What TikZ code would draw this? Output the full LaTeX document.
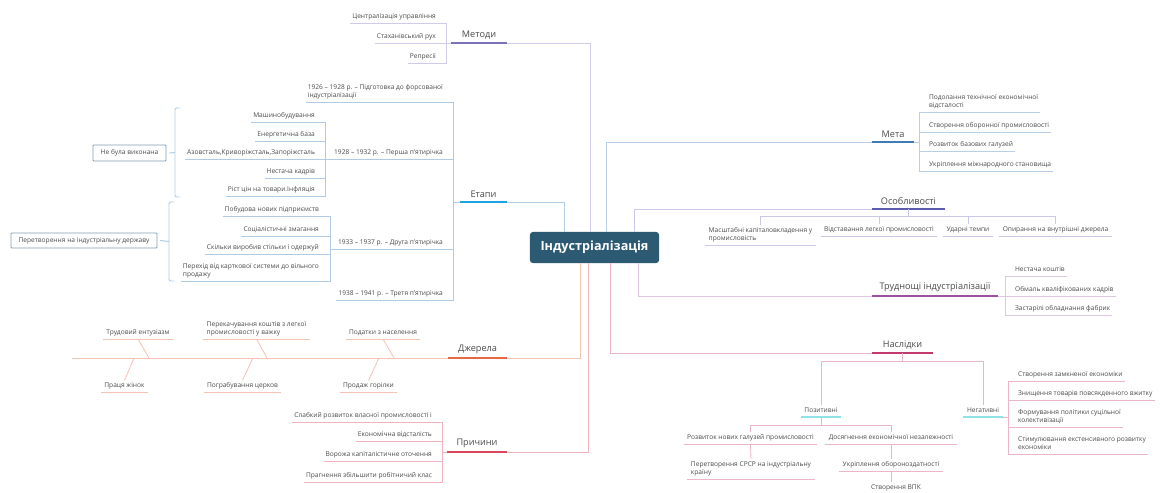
\documentclass[tikz,border=0pt]{standalone}
\usepackage{fontspec}
\setmainfont{Open Sans}
\usepackage{tikz}
\usetikzlibrary{positioning}

\definecolor{rootc}{HTML}{2C5A73}
\definecolor{txtc}{HTML}{4A4A4A}
\definecolor{metbar}{HTML}{7B72BE}
\definecolor{metln}{HTML}{CFCBE8}
\definecolor{etbar}{HTML}{1FA3E0}
\definecolor{etln}{HTML}{AFCBE6}
\definecolor{dzhbar}{HTML}{E36A45}
\definecolor{dzhln}{HTML}{F4C3B6}
\definecolor{prbar}{HTML}{D9475A}
\definecolor{prln}{HTML}{F0B3BB}
\definecolor{metabar}{HTML}{3E7CB8}
\definecolor{metaln}{HTML}{B7CFE7}
\definecolor{osbar}{HTML}{5D5DB0}
\definecolor{osln}{HTML}{CAC8E8}
\definecolor{trbar}{HTML}{9C509F}
\definecolor{trln}{HTML}{DDC6E0}
\definecolor{nabar}{HTML}{C53A6E}
\definecolor{naln}{HTML}{EBB6C8}
\definecolor{cybar}{HTML}{8FE3E6}
\definecolor{boxc}{HTML}{7E9CB6}

\tikzset{
  root/.style={
    rectangle,
    rounded corners=2pt,
    fill=rootc,
    text=white,
    minimum width=3.225cm,
    minimum height=0.775cm,
    inner sep=0pt,
    font=\bfseries\fontsize{9}{11}\selectfont
    },
  topic/.style={
    anchor=south,
    inner xsep=0pt,
    inner ysep=3pt,
    outer sep=0pt,
    text=txtc,
    font=\fontsize{6.5}{8}\selectfont
    },
  leaf/.style={
    inner xsep=1.5pt,
    inner ysep=1.8pt,
    outer sep=0pt,
    text depth=1.2pt,
    align=left,
    text=txtc,
    font=\fontsize{4.7}{5.8}\selectfont
    },
  lleaf/.style={leaf, anchor=south east},
  rleaf/.style={leaf, anchor=south west},
  uleaf/.style={leaf, anchor=south, inner xsep=2.5pt},
  dleaf/.style={leaf, anchor=south, inner xsep=2.5pt},
  sumbox/.style={
    rectangle,
    draw=boxc,
    line width=0.6pt,
    rounded corners=0.5pt,
    inner sep=0pt,
    text=txtc,
    font=\fontsize{4.7}{5.8}\selectfont
    },
  ubar/.style={line width=2.1pt},
  metl/.style={draw=metln, line width=0.6pt},
  etl/.style={draw=etln, line width=0.6pt},
  brl/.style={draw=etln, line width=0.7pt, rounded corners=1pt},
  dzhl/.style={draw=dzhln, line width=0.6pt},
  prl/.style={draw=prln, line width=0.6pt},
  metal/.style={draw=metaln, line width=0.6pt},
  osl/.style={draw=osln, line width=0.6pt},
  trl/.style={draw=trln, line width=0.6pt},
  nal/.style={draw=naln, line width=0.6pt},
  cyl/.style={draw=cybar, line width=1pt},
}

\begin{document}
\begin{tikzpicture}[x=0.025cm, y=-0.025cm]
\useasboundingbox (0,0) rectangle (1160,493);

\node[root] (root) at (594.5,247.5) {Індустріалізація};

% Методи
\node[topic, minimum width=1.4cm] (met) at (479,43) {Методи};
\draw[ubar, draw=metbar] (met.south west) -- (met.south east);
\draw[metl] (met.south east) -| ([xshift=-0.11cm]root.north);
\node[lleaf] (mc1) at (438,23) {Централізація управління};
\node[lleaf] (mc2) at (438,43) {Стаханівський рух};
\node[lleaf] (mc3) at (438,63) {Репресії};
\coordinate (mbr) at (446,43);
\draw[metl] (mc1.south west) -- (mc1.south west -| mbr) -- (mc3.south west -| mbr) -- (mc3.south west);
\draw[metl] (mc2.south west) -- (met.south west);

% Етапи
\node[topic, minimum width=1.175cm] (etapy) at (483.5,202) {Етапи};
\draw[ubar, draw=etbar] (etapy.south west) -- (etapy.south east);
\draw[etl] (etapy.south east) -| ([xshift=-0.76cm]root.north);
\node[lleaf] (ec1) at (445,102) {1926 – 1928 р. – Підготовка до форсованої\\індустріалізації};
\node[lleaf] (ec2) at (445,159) {1928 – 1932 р. – Перша п'ятирічка};
\node[lleaf] (ec3) at (445,249) {1933 – 1937 р. – Друга п'ятирічка};
\node[lleaf] (ec4) at (445,300) {1938 – 1941 р. – Третя п'ятирічка};
\coordinate (ebr) at (453,202);
\draw[etl] (ec1.south west) -- (ec1.south west -| ebr) -- (ec4.south west -| ebr) -- (ec4.south west);
\draw[etl] (ec2.south west) -- (ec2.south west -| ebr);
\draw[etl] (ec3.south west) -- (ec3.south west -| ebr);
\draw[etl] (ebr) -- (etapy.south west);

% Перша п'ятирічка
\node[lleaf] (p1c1) at (317,122) {Машинобудування};
\node[lleaf] (p1c2) at (317,141) {Енергетична база};
\node[lleaf] (p1c3) at (317,159) {Азовсталь,Криворіжсталь,Запоріжсталь};
\node[lleaf] (p1c4) at (317,178) {Нестача кадрів};
\node[lleaf] (p1c5) at (317,196) {Ріст цін на товари.Інфляція};
\coordinate (p1br) at (325,159);
\draw[etl] (p1c1.south west) -- (p1c1.south west -| p1br) -- (p1c5.south west -| p1br) -- (p1c5.south west);
\draw[etl] (p1c2.south west) -- (p1c2.south west -| p1br);
\draw[etl] (p1c3.south west) -- (p1br);
\draw[etl] (p1c4.south west) -- (p1c4.south west -| p1br);
\draw[etl] (p1br) -- (ec2.south west);
\node[sumbox, minimum width=1.825cm, minimum height=0.4cm] (sum1) at (129.5,153) {Не була виконана};
\draw[brl] (180,108) -- (175,108) -- (175,197) -- (180,197);
\coordinate (b1) at (175,152.5);
\draw[brl] (b1) -- ([xshift=0.07cm]sum1.east);

% Друга п'ятирічка
\node[lleaf] (p2c1) at (321,216) {Побудова нових підприємств};
\node[lleaf] (p2c2) at (321,236) {Соціалістичні змагання};
\node[lleaf] (p2c3) at (321,254) {Скільки виробив стільки і одержуй};
\node[lleaf] (p2c4) at (321,281) {Перехід від карткової системи до вільного\\продажу};
\coordinate (p2br) at (330,249);
\draw[etl] (p2c1.south west) -- (p2c1.south west -| p2br) -- (p2c4.south west -| p2br) -- (p2c4.south west);
\draw[etl] (p2c2.south west) -- (p2c2.south west -| p2br);
\draw[etl] (p2c3.south west) -- (p2c3.south west -| p2br);
\draw[etl] (p2br) -- (ec3.south west);
\node[sumbox, minimum width=3.65cm, minimum height=0.375cm] (sum2) at (84,240.5) {Перетворення на індустріальну державу};
\draw[brl] (174,202) -- (169,202) -- (169,281) -- (174,281);
\coordinate (b2) at (169,241.5);
\draw[brl] (b2) -- ([xshift=0.07cm]sum2.east);

% Джерела
\node[topic, minimum width=1.475cm] (dzh) at (477.5,358) {Джерела};
\draw[ubar, draw=dzhbar] (dzh.south west) -- (dzh.south east);
\draw[dzhl] (dzh.south east) -| ([xshift=-0.34cm]root.south);
\coordinate (fend) at (72,358);
\draw[dzhl] (dzh.south west) -- (fend);
\node[dleaf] (dj1) at (138,339) {Трудовий ентузіазм};
\node[dleaf] (dj2) at (256.5,339) {Перекачування коштів з легкої\\промисловості у важку};
\node[dleaf] (dj3) at (383,339) {Податки з населення};
\node[dleaf] (dj4) at (124.5,392) {Праця жінок};
\node[dleaf] (dj5) at (242.5,392) {Пограбування церков};
\node[dleaf] (dj6) at (368.5,392) {Продаж горілки};
\draw[dzhl] (dj1.south west) -- (dj1.south east);
\draw[dzhl] (dj2.south west) -- (dj2.south east);
\draw[dzhl] (dj3.south west) -- (dj3.south east);
\draw[dzhl] (dj4.south west) -- (dj4.south east);
\draw[dzhl] (dj5.south west) -- (dj5.south east);
\draw[dzhl] (dj6.south west) -- (dj6.south east);
\coordinate (f1) at (149,358);
\coordinate (f2) at (267,358);
\coordinate (f3) at (394,358);
\coordinate (f4) at (134,358);
\coordinate (f5) at (253,358);
\coordinate (f6) at (379,358);
\draw[dzhl] (dj1.south) -- (f1);
\draw[dzhl] (dj2.south) -- (f2);
\draw[dzhl] (dj3.south) -- (f3);
\draw[dzhl] (f4) -- (dj4.north);
\draw[dzhl] (f5) -- (dj5.north);
\draw[dzhl] (f6) -- (dj6.north);

% Причини
\node[topic, minimum width=1.5cm] (prych) at (477,452) {Причини};
\draw[ubar, draw=prbar] (prych.south west) -- (prych.south east);
\draw[prl] (prych.south east) -| ([xshift=-0.16cm]root.south);
\node[lleaf] (pr1) at (434,422) {Слабкий розвиток власної промисловості і};
\node[lleaf] (pr2) at (434,441) {Економічна відсталість};
\node[lleaf] (pr3) at (434,461) {Ворожа капіталістичне оточення};
\node[lleaf] (pr4) at (434,482) {Прагнення збільшити робітничий клас};
\coordinate (prbr) at (442,452);
\draw[prl] (pr1.south west) -- (pr1.south west -| prbr) -- (pr4.south west -| prbr) -- (pr4.south west);
\draw[prl] (pr2.south west) -- (pr2.south west -| prbr);
\draw[prl] (pr3.south west) -- (pr3.south west -| prbr);
\draw[prl] (prbr) -- (prych.south west);

% Мета
\node[topic, minimum width=1.05cm] (meta) at (893,142) {Мета};
\draw[ubar, draw=metabar] (meta.south west) -- (meta.south east);
\draw[metal] ([xshift=0.31cm]root.north) |- (meta.south west);
\node[rleaf] (mt1) at (927,112) {Подолання технічної економічної\\відсталості};
\node[rleaf] (mt2) at (927,132) {Створення оборонної промисловості};
\node[rleaf] (mt3) at (927,151) {Розвиток базових галузей};
\node[rleaf] (mt4) at (927,171) {Укріплення міжнародного становища};
\coordinate (mtbr) at (919,142);
\draw[metal] (mt1.south east) -- (mt1.south east -| mtbr) -- (mt4.south east -| mtbr) -- (mt4.south east);
\draw[metal] (mt2.south east) -- (mt2.south east -| mtbr);
\draw[metal] (mt3.south east) -- (mt3.south east -| mtbr);
\draw[metal] (meta.south east) -- (mtbr);

% Особливості
\node[topic, minimum width=1.825cm] (osob) at (908.5,209) {Особливості};
\draw[ubar, draw=osbar] (osob.south west) -- (osob.south east);
\draw[osl] ([xshift=1.01cm]root.north) |- (osob.south west);
\coordinate (osbr) at (908.5,216);
\draw[osl] (osob.south) -- (osbr);
\node[uleaf] (os1) at (760.5,245) {Масштабні капіталовкладення у\\промисловість};
\node[uleaf] (os2) at (879,236) {Відставання легкої промисловості};
\node[uleaf] (os3) at (968,236) {Ударні темпи};
\node[uleaf] (os4) at (1055.5,236) {Опирання на внутрішні джерела};
\draw[osl] (os1.south west) -- (os1.south east);
\draw[osl] (os2.south west) -- (os2.south east);
\draw[osl] (os3.south west) -- (os3.south east);
\draw[osl] (os4.south west) -- (os4.south east);
\draw[osl] (os1.north |- osbr) -- (os4.north |- osbr);
\draw[osl] (os1.north |- osbr) -- (os1.north);
\draw[osl] (os2.north |- osbr) -- (os2.north);
\draw[osl] (os3.north |- osbr) -- (os3.north);
\draw[osl] (os4.north |- osbr) -- (os4.north);

% Труднощі індустріалізації
\node[topic, minimum width=3.15cm] (trud) at (935,296) {Труднощі індустріалізації};
\draw[ubar, draw=trbar] (trud.south west) -- (trud.south east);
\draw[trl] ([xshift=1.09cm]root.south) |- (trud.south west);
\node[rleaf] (tr1) at (1013,276) {Нестача коштів};
\node[rleaf] (tr2) at (1013,296) {Обмаль кваліфікованих кадрів};
\node[rleaf] (tr3) at (1013,315) {Застарілі обладнання фабрик};
\coordinate (trbr) at (1005,296);
\draw[trl] (tr1.south east) -- (tr1.south east -| trbr) -- (tr3.south east -| trbr) -- (tr3.south east);
\draw[trl] (tr2.south east) -- (trbr);
\draw[trl] (trud.south east) -- (trbr);

% Наслідки
\node[topic, minimum width=1.525cm] (nasl) at (902.5,353) {Наслідки};
\draw[ubar, draw=nabar] (nasl.south west) -- (nasl.south east);
\draw[nal] ([xshift=0.41cm]root.south) |- (nasl.south west);
\coordinate (nabr) at (902.5,361);
\draw[nal] (nasl.south) -- (nabr);
\node[uleaf] (poz) at (821,417) {Позитивні};
\node[uleaf] (neg) at (983,417) {Негативні};
\draw[cyl] (poz.south west) -- (poz.south east);
\draw[cyl] (neg.south west) -- (neg.south east);
\draw[nal] (poz.north |- nabr) -- (neg.north |- nabr);
\draw[nal] (poz.north |- nabr) -- (poz.north);
\draw[nal] (neg.north |- nabr) -- (neg.north);

% Позитивні
\coordinate (pzbr) at (821,425);
\draw[nal] (poz.south) -- (pzbr);
\node[uleaf] (pz1) at (750.5,444) {Розвиток нових галузей промисловості};
\node[uleaf] (pz2) at (891,444) {Досягнення економічної незалежності};
\node[uleaf] (pz3) at (751,479) {Перетворення СРСР на індустріальну\\країну};
\node[uleaf] (pz4) at (891,471) {Укріплення обороноздатності};
\node[uleaf] (pz5) at (896,493.5) {Створення ВПК};
\draw[nal] (pz1.south west) -- (pz1.south east);
\draw[nal] (pz2.south west) -- (pz2.south east);
\draw[nal] (pz3.south west) -- (pz3.south east);
\draw[nal] (pz4.south west) -- (pz4.south east);
\draw[nal] (pz1.north |- pzbr) -- (pz2.north |- pzbr);
\draw[nal] (pz1.north |- pzbr) -- (pz1.north);
\draw[nal] (pz2.north |- pzbr) -- (pz2.north);
\draw[nal] (pz1.south) -- (pz3.north);
\draw[nal] (pz2.south) -- (pz4.north);
\draw[nal] (pz4.south) -- (pz4.south |- pz5.north);

% Негативні
\node[rleaf] (ng1) at (1016,381) {Створення замкненої економіки};
\node[rleaf] (ng2) at (1016,400) {Знищення товарів повсякденного вжитку};
\node[rleaf] (ng3) at (1016,427) {Формування політики суцільної\\колективізації};
\node[rleaf] (ng4) at (1016,454) {Стимулювання екстенсивного розвитку\\економіки};
\coordinate (ngbr) at (1008,417);
\draw[nal] (ng1.south east) -- (ng1.south east -| ngbr) -- (ng4.south east -| ngbr) -- (ng4.south east);
\draw[nal] (ng2.south east) -- (ng2.south east -| ngbr);
\draw[nal] (ng3.south east) -- (ng3.south east -| ngbr);
\draw[nal] (neg.south east) -- (ngbr);
\end{tikzpicture}
\end{document}
